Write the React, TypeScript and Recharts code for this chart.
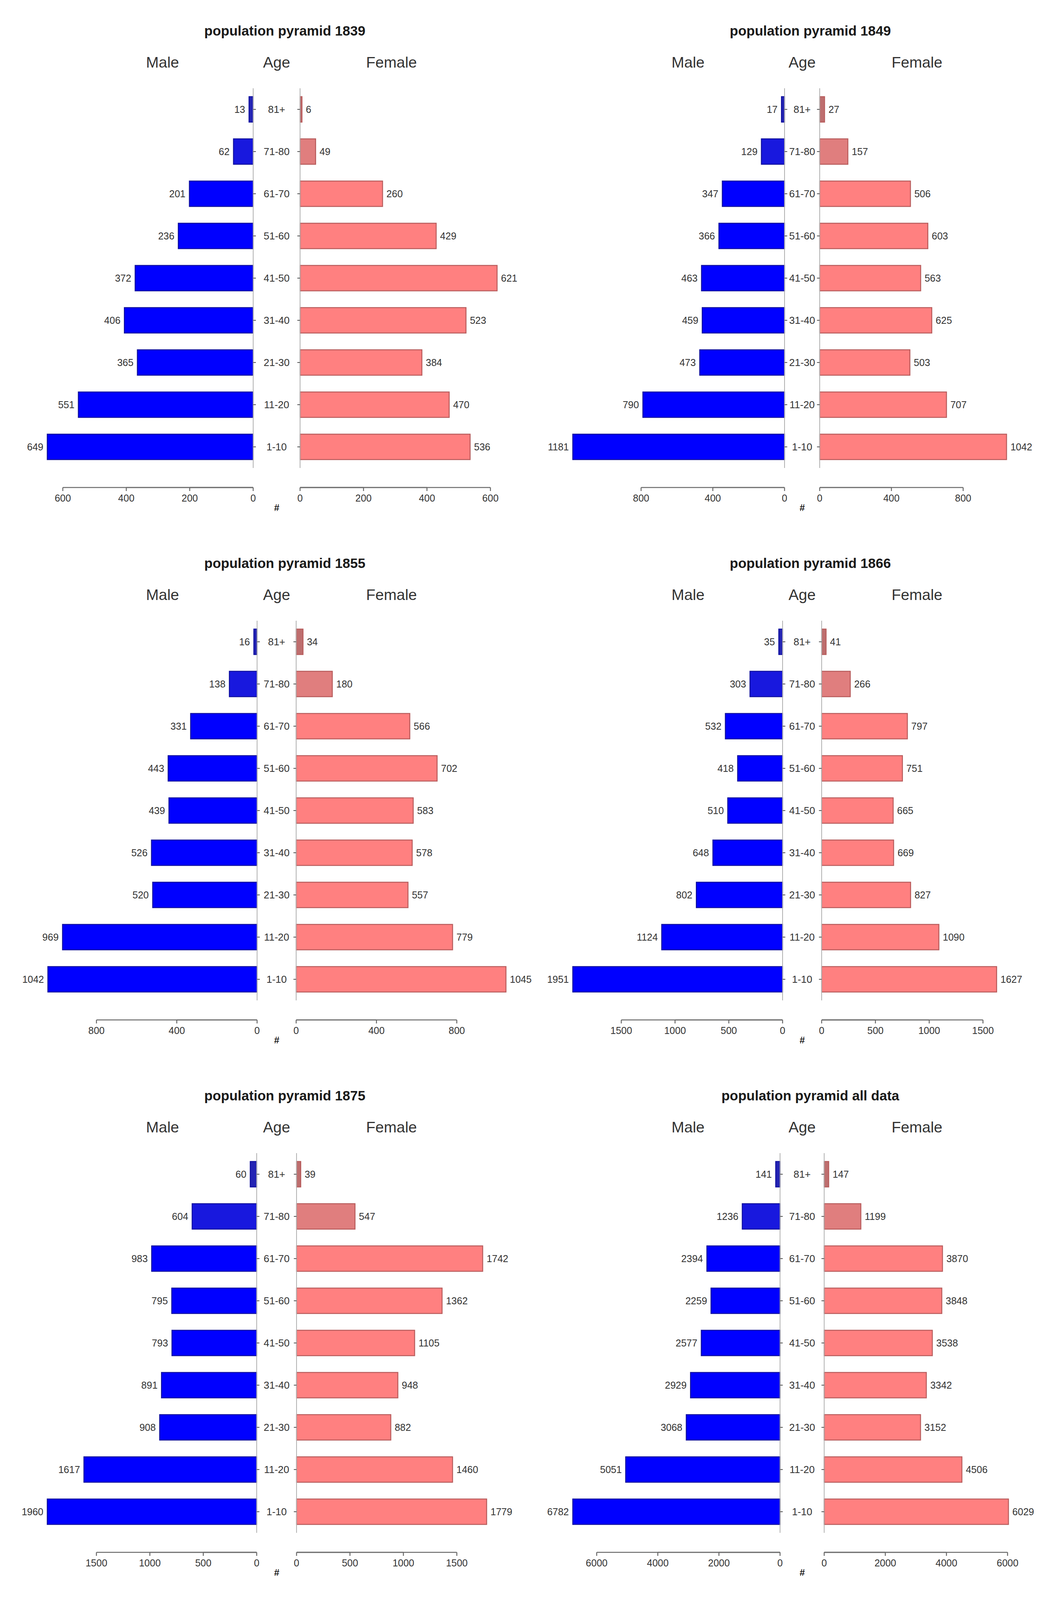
import React from 'react';
import { BarChart, Bar, XAxis, YAxis, Cell, LabelList } from 'recharts';

// ---------------- data ----------------
const AGE_GROUPS = ['1-10', '11-20', '21-30', '31-40', '41-50', '51-60', '61-70', '71-80', '81+'];

const MALE_1839 = [649, 551, 365, 406, 372, 236, 201, 62, 13];
const FEMALE_1839 = [536, 470, 384, 523, 621, 429, 260, 49, 6];
const MALE_1849 = [1181, 790, 473, 459, 463, 366, 347, 129, 17];
const FEMALE_1849 = [1042, 707, 503, 625, 563, 603, 506, 157, 27];
const MALE_1855 = [1042, 969, 520, 526, 439, 443, 331, 138, 16];
const FEMALE_1855 = [1045, 779, 557, 578, 583, 702, 566, 180, 34];
const MALE_1866 = [1951, 1124, 802, 648, 510, 418, 532, 303, 35];
const FEMALE_1866 = [1627, 1090, 827, 669, 665, 751, 797, 266, 41];
const MALE_1875 = [1960, 1617, 908, 891, 793, 795, 983, 604, 60];
const FEMALE_1875 = [1779, 1460, 882, 948, 1105, 1362, 1742, 547, 39];
const MALE_ALL = [6782, 5051, 3068, 2929, 2577, 2259, 2394, 1236, 141];
const FEMALE_ALL = [6029, 4506, 3152, 3342, 3538, 3848, 3870, 1199, 147];

const TICKS_1839 = [0, 200, 400, 600];
const TICKS_1849 = [0, 400, 800];
const TICKS_1855 = [0, 400, 800];
const TICKS_1866 = [0, 500, 1000, 1500];
const TICKS_1875 = [0, 500, 1000, 1500];
const TICKS_ALL = [0, 2000, 4000, 6000];

const TITLES = [
  'population pyramid 1839',
  'population pyramid 1849',
  'population pyramid 1855',
  'population pyramid 1866',
  'population pyramid 1875',
  'population pyramid all data',
];

const HEADER_MALE = 'Male';
const HEADER_AGE = 'Age';
const HEADER_FEMALE = 'Female';
const X_LABEL = '#';

// ---------------- layout / style ----------------
// the photographed viewport is about 4096px tall, so vertical layout is scaled to fit it
const VS = 4096 / 4304;
const FONT = '"Liberation Sans", Arial, Helvetica, sans-serif';
const PANEL_W = 1345;
const PANEL_H = Math.round(1432 * VS);
const CENTER = 708;
const LEFT_EDGE = 121;
const RIGHT_EDGE = 1295;
const TITLE_Y = 82 * VS;
const HEADER_Y = 167 * VS;
const XLABEL_Y = 1366 * VS;
const PLOT_TOP = Math.round(237 * VS);
const PLOT_BOTTOM = Math.round(1259 * VS);
const XAXIS_H = 120;
const BOTTOM_MARGIN = PANEL_H - PLOT_BOTTOM - XAXIS_H;
const AXIS_OFFSET = 50;
const PANEL_GAPS = [120, 90, 100, 100, 102, 113];

const MALE_FILLS = ['#0000FF', '#0000FF', '#0000FF', '#0000FF', '#0000FF', '#0000FF', '#0000FF', '#1818DE', '#2424B4'];
const FEMALE_FILLS = ['#FF8080', '#FF8080', '#FF8080', '#FF8080', '#FF8080', '#FF8080', '#FF8080', '#E07E7E', '#BE6E6E'];
const MALE_STROKE = '#1010A0';
const FEMALE_STROKE = '#B85C5C';
const TEXT = '#333333';
const AXIS_COLOR = '#6a6a6a';

const PANELS = [
  { title: TITLES[0], male: MALE_1839, female: FEMALE_1839, ticks: TICKS_1839, gap: PANEL_GAPS[0] },
  { title: TITLES[1], male: MALE_1849, female: FEMALE_1849, ticks: TICKS_1849, gap: PANEL_GAPS[1] },
  { title: TITLES[2], male: MALE_1855, female: FEMALE_1855, ticks: TICKS_1855, gap: PANEL_GAPS[2] },
  { title: TITLES[3], male: MALE_1866, female: FEMALE_1866, ticks: TICKS_1866, gap: PANEL_GAPS[3] },
  { title: TITLES[4], male: MALE_1875, female: FEMALE_1875, ticks: TICKS_1875, gap: PANEL_GAPS[4] },
  { title: TITLES[5], male: MALE_ALL, female: FEMALE_ALL, ticks: TICKS_ALL, gap: PANEL_GAPS[5] },
];

// ---------------- custom renderers ----------------
function makeAxisTick(zeroX: number) {
  return (props: any) => {
    const { x, y, payload } = props;
    const ly = y + AXIS_OFFSET;
    return (
      <g>
        <line x1={zeroX} x2={x} y1={ly} y2={ly} stroke={AXIS_COLOR} strokeWidth={2.5} />
        <line x1={x} x2={x} y1={ly} y2={ly + 9} stroke={AXIS_COLOR} strokeWidth={2.5} />
        <text x={x} y={ly + 36} textAnchor="middle" fontSize={25} fill={TEXT} fontFamily={FONT}>
          {payload.value}
        </text>
      </g>
    );
  };
}

function makeAgeTick(half: number) {
  return (props: any) => {
    const { x, y, payload } = props;
    return (
      <g>
        <line x1={x} x2={x + 7} y1={y} y2={y} stroke="#555" strokeWidth={2} />
        <text x={x + half} y={y} dy="0.35em" textAnchor="middle" fontSize={26} fill={TEXT} fontFamily={FONT}>
          {payload.value}
        </text>
      </g>
    );
  };
}

const femaleAgeTick = (props: any) => {
  const { x, y } = props;
  return <line x1={x - 7} x2={x} y1={y} y2={y} stroke="#555" strokeWidth={2} />;
};

function getBox(props: any) {
  const vb = props.viewBox && props.viewBox.x !== undefined ? props.viewBox : props;
  return { x: Number(vb.x), y: Number(vb.y), w: Number(vb.width), h: Number(vb.height) };
}

const maleValueLabel = (props: any) => {
  const { x, y, w, h } = getBox(props);
  const left = Math.min(x, x + w);
  return (
    <text x={left - 10} y={y + h / 2} dy="0.35em" textAnchor="end" fontSize={25} fill={TEXT} fontFamily={FONT}>
      {props.value}
    </text>
  );
};

const femaleValueLabel = (props: any) => {
  const { x, y, w, h } = getBox(props);
  const right = Math.max(x, x + w);
  return (
    <text x={right + 10} y={y + h / 2} dy="0.35em" textAnchor="start" fontSize={25} fill={TEXT} fontFamily={FONT}>
      {props.value}
    </text>
  );
};

function Txt({ x, y, size, bold, italic, children }: any) {
  return (
    <div
      style={{
        position: 'absolute',
        left: x,
        top: y,
        transform: 'translate(-50%, -50%)',
        whiteSpace: 'nowrap',
        fontFamily: FONT,
        fontSize: size,
        fontWeight: bold ? 'bold' : 'normal',
        fontStyle: italic ? 'italic' : 'normal',
        color: bold ? '#1a1a1a' : TEXT,
        lineHeight: 1,
      }}
    >
      {children}
    </div>
  );
}

function Panel({ cfg, left, top }: any) {
  const rows = AGE_GROUPS.map((age, i) => ({ age, male: cfg.male[i], female: cfg.female[i] }));
  const maxAll = Math.max(...cfg.male, ...cfg.female);
  const half = cfg.gap / 2;
  const femaleW = PANEL_W - CENTER;

  return (
    <div style={{ position: 'absolute', left, top, width: PANEL_W, height: PANEL_H }}>
      <Txt x={729} y={TITLE_Y} size={35} bold>{cfg.title}</Txt>
      <Txt x={416} y={HEADER_Y} size={39}>{HEADER_MALE}</Txt>
      <Txt x={CENTER} y={HEADER_Y} size={39}>{HEADER_AGE}</Txt>
      <Txt x={1002} y={HEADER_Y} size={39}>{HEADER_FEMALE}</Txt>

      <div style={{ position: 'absolute', left: 0, top: 0 }}>
        <BarChart
          layout="vertical"
          width={CENTER}
          height={PANEL_H}
          data={rows}
          margin={{ top: PLOT_TOP, right: 0, bottom: BOTTOM_MARGIN, left: LEFT_EDGE }}
          barCategoryGap="20%"
        >
          <XAxis
            type="number"
            domain={[0, maxAll]}
            reversed
            ticks={cfg.ticks}
            interval={0}
            height={XAXIS_H}
            axisLine={false}
            tickLine={false}
            tickSize={0}
            tickMargin={0}
            tick={makeAxisTick(CENTER - half)}
          />
          <YAxis
            type="category"
            dataKey="age"
            orientation="right"
            reversed
            width={half}
            interval={0}
            axisLine={{ stroke: '#b0b0b0', strokeWidth: 2 }}
            tickLine={false}
            tickSize={0}
            tickMargin={0}
            tick={makeAgeTick(half)}
          />
          <Bar dataKey="male" isAnimationActive={false} stroke={MALE_STROKE} strokeWidth={2.5}>
            {rows.map((r, i) => (
              <Cell key={r.age} fill={MALE_FILLS[i]} stroke={MALE_STROKE} />
            ))}
            <LabelList dataKey="male" content={maleValueLabel} />
          </Bar>
        </BarChart>
      </div>

      <div style={{ position: 'absolute', left: CENTER, top: 0 }}>
        <BarChart
          layout="vertical"
          width={femaleW}
          height={PANEL_H}
          data={rows}
          margin={{ top: PLOT_TOP, right: PANEL_W - RIGHT_EDGE, bottom: BOTTOM_MARGIN, left: 0 }}
          barCategoryGap="20%"
        >
          <XAxis
            type="number"
            domain={[0, maxAll]}
            ticks={cfg.ticks}
            interval={0}
            height={XAXIS_H}
            axisLine={false}
            tickLine={false}
            tickSize={0}
            tickMargin={0}
            tick={makeAxisTick(half)}
          />
          <YAxis
            type="category"
            dataKey="age"
            orientation="left"
            reversed
            width={half}
            interval={0}
            axisLine={{ stroke: '#b0b0b0', strokeWidth: 2 }}
            tickLine={false}
            tickSize={0}
            tickMargin={0}
            tick={femaleAgeTick}
          />
          <Bar dataKey="female" isAnimationActive={false} stroke={FEMALE_STROKE} strokeWidth={2.5}>
            {rows.map((r, i) => (
              <Cell key={r.age} fill={FEMALE_FILLS[i]} stroke={FEMALE_STROKE} />
            ))}
            <LabelList dataKey="female" content={femaleValueLabel} />
          </Bar>
        </BarChart>
      </div>

      <Txt x={CENTER} y={XLABEL_Y} size={24} bold italic>{X_LABEL}</Txt>
    </div>
  );
}

export default function App() {
  return (
    <div style={{ position: 'absolute', left: 0, top: 0, width: 2690, height: 4096, background: '#ffffff' }}>
      <style>{'.recharts-surface{overflow:visible}'}</style>
      {PANELS.map((cfg, i) => (
        <Panel key={cfg.title} cfg={cfg} left={(i % 2) * PANEL_W} top={Math.floor(i / 2) * PANEL_H} />
      ))}
    </div>
  );
}
